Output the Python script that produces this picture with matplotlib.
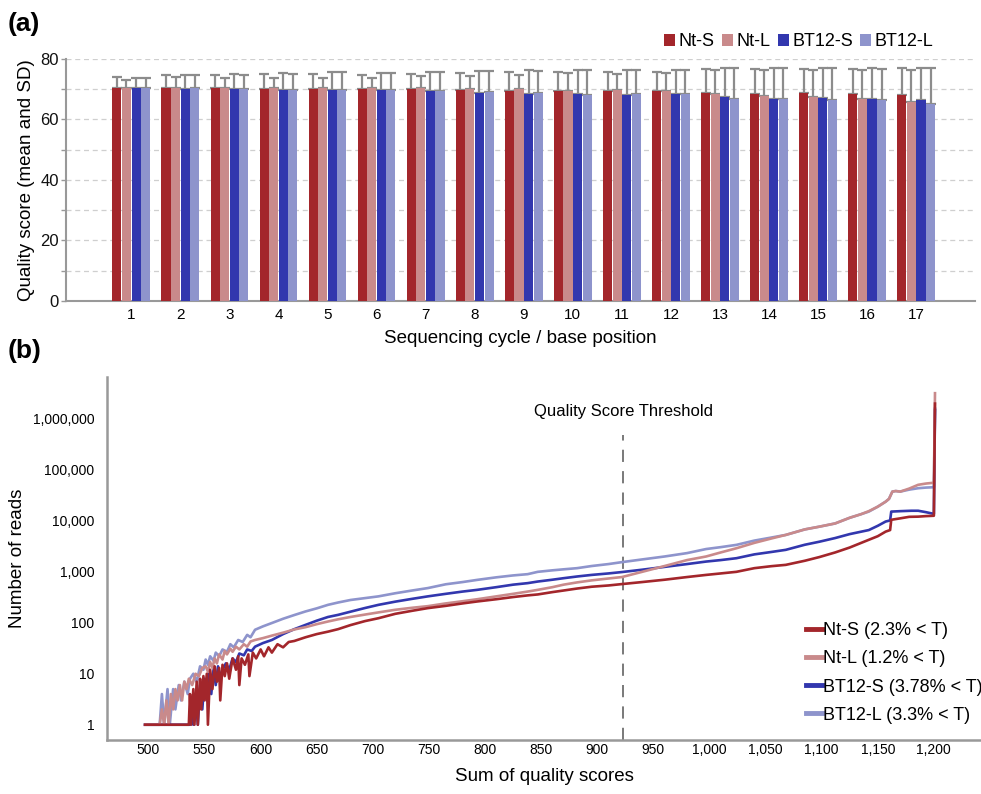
import numpy as np
import matplotlib
matplotlib.use("Agg")
import matplotlib.pyplot as plt
from matplotlib.ticker import FuncFormatter, FixedLocator, MultipleLocator
from matplotlib.lines import Line2D

plt.rcParams['font.family'] = ['Liberation Sans', 'DejaVu Sans']

# ---- panel (a): mean quality score per cycle ----
cycles = list(range(1, 18))
names = ["Nt-S", "Nt-L", "BT12-S", "BT12-L"]
colors = ["#a3262b", "#c98a8b", "#3237ae", "#8e94cc"]

mean_nts = [70.5, 70.2, 70.2, 70.0, 70.0, 70.0, 70.0, 69.7, 69.3, 69.3, 69.3, 69.3, 68.7, 68.4, 68.7, 68.4, 68.0]
mean_ntl = [70.5, 70.5, 70.5, 70.5, 70.5, 70.5, 70.2, 70.0, 70.0, 69.3, 69.7, 69.3, 68.4, 67.7, 67.4, 66.7, 65.7]
mean_bts = [70.5, 70.0, 70.0, 69.7, 69.7, 69.7, 69.3, 68.7, 68.4, 68.4, 68.0, 68.4, 67.4, 66.7, 67.0, 66.7, 66.4]
mean_btl = [70.5, 70.2, 70.0, 69.7, 69.7, 69.7, 69.3, 68.9, 68.7, 68.0, 68.4, 68.4, 66.7, 66.7, 66.4, 66.4, 65.0]

sd_nts = [3.6, 4.4, 4.4, 4.9, 4.9, 4.7, 4.9, 5.7, 6.4, 6.4, 6.4, 6.4, 7.8, 8.1, 7.9, 8.2, 8.9]
sd_ntl = [2.6, 3.6, 3.2, 3.1, 3.2, 3.2, 4.1, 4.4, 4.6, 6.1, 5.4, 5.9, 7.8, 8.7, 8.8, 9.7, 10.5]
sd_bts = [3.3, 4.7, 5.0, 5.7, 5.9, 5.7, 6.4, 7.3, 7.9, 7.9, 8.2, 7.9, 9.7, 10.4, 10.1, 10.4, 10.7]
sd_btl = [3.0, 4.4, 4.7, 5.4, 5.9, 5.5, 6.3, 7.0, 7.3, 8.3, 7.8, 7.8, 10.2, 10.2, 10.4, 10.1, 11.8]

# ---- panel (b): distribution of summed quality scores ----
nts_x = [497, 534, 536, 537, 538, 540, 541, 543, 544, 546, 547, 549, 550, 552, 553, 555, 557, 559, 561, 563,
         564, 566, 568, 570, 572, 575, 578, 580, 581, 583, 586, 589, 590, 593, 596, 600, 603, 607, 610, 615,
         620, 625, 630, 640, 650, 660, 669, 680, 693, 705, 720, 735, 749, 765, 780, 793, 810, 825, 838,
         847, 860, 870, 882, 895, 910, 922, 940, 960, 980, 997, 1010, 1024, 1040, 1055, 1068, 1085, 1098, 1112, 1125,
         1142, 1150, 1157, 1161, 1162, 1170, 1178, 1186, 1193, 1200, 1201]
nts_y = [1, 1, 1, 4, 1, 5, 1, 7, 1, 8, 2, 9, 3, 10, 1, 12, 5, 14, 7, 13,
         3, 15, 9, 16, 8, 20, 12, 22, 6, 20, 15, 24, 9, 26, 20, 30, 22, 33, 26, 38,
         33, 42, 44, 52, 60, 67, 75, 90, 108, 123, 150, 172, 194, 215, 240, 262, 290, 320, 345,
         360, 400, 430, 470, 510, 540, 575, 630, 700, 790, 870, 930, 1000, 1180, 1290, 1370, 1650, 1950, 2400, 3000,
         4250, 5000, 6150, 6600, 10500, 11200, 12000, 12100, 12400, 12600, 2000000]

ntl_x = [497, 510, 512, 514, 516, 518, 520, 522, 524, 526, 528, 530, 532, 534, 536, 539, 542, 545, 548, 551,
         553, 555, 557, 559, 561, 563, 566, 568, 570, 573, 575, 578, 581, 585, 588, 591, 595, 602, 610, 620,
         630, 640, 650, 660, 669, 680, 693, 705,
         720, 735, 749, 765, 780, 793, 810, 825, 838, 847, 860, 870, 882, 895, 910, 922, 940, 960, 980, 997,
         1010, 1024, 1040, 1055, 1068, 1085, 1098, 1112, 1125, 1135, 1142, 1150, 1157, 1160, 1163, 1166, 1170, 1178, 1186, 1193,
         1200, 1201]
ntl_y = [1, 1, 2, 1, 3, 1, 4, 2, 5, 3, 6, 3, 7, 5, 8, 6, 10, 9, 13, 14,
         11, 17, 13, 20, 16, 24, 19, 28, 24, 31, 27, 34, 30, 38, 34, 43, 46, 50, 56, 64,
         74, 82, 94, 106, 117, 130, 145, 160,
         180, 197, 212, 240, 265, 290, 330, 370, 410, 443, 500, 560, 620, 680, 740, 790, 1000, 1300, 1700, 2000,
         2400, 2900, 3700, 4500, 5300, 6800, 7700, 8900, 11500, 13500, 15500, 19000, 23800, 27000, 37500, 38500, 37500, 43000, 51000, 54000,
         56000, 3200000]

bts_x = [497, 534, 537, 538, 540, 542, 544, 546, 548, 550, 552, 554, 556, 558, 560, 562, 564, 566, 569, 572,
         575, 578, 581, 585, 588, 592, 595, 602, 610, 620, 630, 640, 650, 660, 669, 680, 693, 705, 720, 735,
         749, 765, 780, 793, 810, 825, 838,
         847, 860, 870, 882, 895, 910, 922, 940, 960, 980, 997, 1010, 1024, 1040, 1055, 1068, 1085, 1098, 1112, 1125,
         1142, 1150, 1157, 1161, 1162, 1170, 1180, 1186, 1193, 1200, 1201]
bts_y = [1, 1, 1, 3, 1, 4, 1, 6, 2, 8, 3, 10, 4, 12, 6, 14, 8, 12, 16, 12,
         20, 17, 25, 23, 30, 28, 34, 40, 46, 60, 75, 91, 110, 130, 143, 165, 195, 225, 260, 295,
         330, 370, 410, 443, 500, 560, 600,
         645, 700, 750, 810, 870, 930, 990, 1100, 1250, 1420, 1590, 1700, 1850, 2200, 2450, 2700, 3400, 3900, 4600, 5500,
         6600, 8000, 9700, 10200, 15200, 15500, 15800, 15800, 14800, 13700, 1500000]

btl_x = [497, 510, 512, 514, 517, 519, 522, 524, 527, 529, 532, 535, 537, 540, 543, 546, 549, 551, 553, 555,
         558, 560, 563, 566, 570, 573, 576, 580, 584, 588, 591, 595, 602, 610, 620, 630, 640, 650, 660, 669,
         680, 693, 705, 720, 735, 749, 765,
         780, 793, 810, 825, 838, 847, 860, 870, 882, 895, 910, 922, 940, 960, 980, 997, 1010, 1024, 1040, 1055,
         1068, 1085, 1098, 1112, 1125, 1135, 1142, 1150, 1157, 1160, 1163, 1166, 1170, 1178, 1186, 1193, 1200, 1201]
btl_y = [1, 1, 4, 1, 5, 1, 5, 2, 6, 3, 7, 4, 8, 10, 7, 14, 12, 19, 15, 22,
         18, 26, 22, 30, 27, 38, 33, 46, 42, 58, 52, 73, 85, 99, 120, 142, 167, 192, 225, 250,
         280, 305, 330, 380, 430, 480, 570,
         630, 695, 780, 850, 900, 1000, 1070, 1120, 1180, 1300, 1420, 1550, 1750, 2000, 2330, 2800, 3050, 3380, 4100, 4700,
         5300, 6800, 7700, 8900, 11500, 13500, 15200, 19000, 23800, 27000, 37500, 38500, 37500, 41000, 43700, 45000, 45700, 1600000]

legend_b = ["Nt-S (2.3% < T)", "Nt-L (1.2% < T)", "BT12-S (3.78% < T)", "BT12-L (3.3% < T)"]
threshold = 923

fig = plt.figure(figsize=(9.81, 7.94), dpi=100)
gray = "#8c8c8c"

# ---------- (a) ----------
ax1 = fig.add_axes([0.0673, 0.621, 0.9267, 0.305])
means = [mean_nts, mean_ntl, mean_bts, mean_btl]
sds = [sd_nts, sd_ntl, sd_bts, sd_btl]
x = np.array(cycles, dtype=float)
w, step = 0.185, 0.195
for i in range(4):
    xs = x + (i - 1.5) * step
    ax1.bar(xs, means[i], width=w, color=colors[i], zorder=3, label=names[i])
    ax1.errorbar(xs, means[i], yerr=[np.zeros(len(x)), sds[i]], fmt='none', ecolor=gray,
                 elinewidth=1.6, capsize=3.4, capthick=1.6, zorder=2)
ax1.set_xlim(-0.33, 18.2)
ax1.set_ylim(0, 80)
ax1.set_xticks(cycles)
ax1.yaxis.set_major_locator(MultipleLocator(20))
ax1.yaxis.set_minor_locator(MultipleLocator(10))
ax1.grid(axis='y', which='both', linestyle=(0, (4, 3)), color='#cfcfcf', linewidth=0.9, zorder=0)
for s in ['top', 'right']:
    ax1.spines[s].set_visible(False)
for s in ['left', 'bottom']:
    ax1.spines[s].set_color('#999999')
    ax1.spines[s].set_linewidth(1.5)
ax1.tick_params(axis='y', which='both', colors='#999999', labelcolor='#111111', labelsize=12, length=3.5, width=1, pad=1.5)
ax1.tick_params(axis='x', length=0, labelsize=11, pad=5)
ax1.set_ylabel("Quality score (mean and SD)", fontsize=13.5, labelpad=4)
ax1.set_xlabel("Sequencing cycle / base position", fontsize=13.5, labelpad=6)
ax1.legend(loc='upper right', bbox_to_anchor=(0.962, 1.135), ncol=4, frameon=False, fontsize=13,
           handlelength=0.6, handleheight=0.6, handletextpad=0.2, columnspacing=0.4, borderaxespad=0)
fig.text(0.008, 0.97, "(a)", fontsize=19, fontweight='bold', va='center')

# ---------- (b) ----------
ax2 = fig.add_axes([0.109, 0.068, 0.891, 0.457])
series = [(nts_x, nts_y), (ntl_x, ntl_y), (bts_x, bts_y), (btl_x, btl_y)]
for i in [3, 2, 1, 0]:
    ax2.plot(series[i][0], series[i][1], color=colors[i], linewidth=1.9, zorder=3 + (3 - i))
ax2.set_yscale('log')
ax2.set_ylim(10 ** -0.3, 10 ** 6.82)
ax2.set_xlim(463, 1242)
ax2.yaxis.set_major_locator(FixedLocator([1, 10, 100, 1000, 10000, 100000, 1000000]))
ax2.yaxis.set_minor_locator(FixedLocator([]))
ax2.yaxis.set_major_formatter(FuncFormatter(lambda v, p: "{:,}".format(int(round(v)))))
ax2.set_xticks(range(500, 1201, 50))
ax2.xaxis.set_major_formatter(FuncFormatter(lambda v, p: "{:,}".format(int(v))))
for s in ['top', 'right']:
    ax2.spines[s].set_visible(False)
for s in ['left', 'bottom']:
    ax2.spines[s].set_color('#999999')
    ax2.spines[s].set_linewidth(1.8)
ax2.tick_params(axis='both', length=0, labelsize=10)
ax2.tick_params(axis='y', pad=9)
ax2.tick_params(axis='x', pad=2)
ax2.set_ylabel("Number of reads", fontsize=13.5, labelpad=5)
ax2.set_xlabel("Sum of quality scores", fontsize=13.5, labelpad=8)
ax2.plot([threshold, threshold], [0, 0.84], transform=ax2.get_xaxis_transform(), color='#555555',
         linewidth=1.1, linestyle=(0, (8, 6)), zorder=2)
ax2.text(threshold, 0.905, "Quality Score Threshold", transform=ax2.get_xaxis_transform(),
         ha='center', va='center', fontsize=12)
handles = [Line2D([], [], color=colors[i], linewidth=3.5) for i in range(4)]
ax2.legend(handles, legend_b, loc='lower right', bbox_to_anchor=(1.01, 0.025), frameon=False, fontsize=13,
           handlelength=0.9, handletextpad=0.05, labelspacing=0.62, borderaxespad=0)
fig.text(0.008, 0.558, "(b)", fontsize=19, fontweight='bold', va='center')

fig.savefig("out.png", dpi=100)
